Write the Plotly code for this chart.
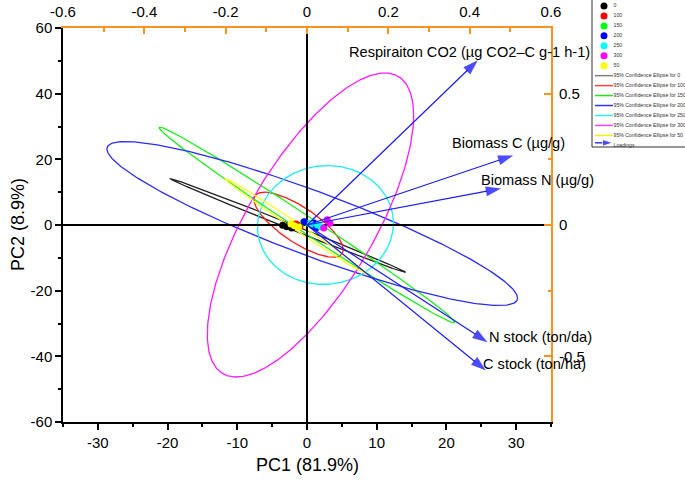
import numpy as np
import plotly.graph_objects as go

W, H = 685, 487

# ---------------- data ----------------
groups = ["0", "100", "150", "200", "250", "300", "50"]
group_colors = ["#000000", "#ff0000", "#00ff00", "#0000ff", "#00ffff", "#ff00ff", "#ffff00"]
ellipse_colors = ["#222222", "#ff1a1a", "#1aee1a", "#2b2bff", "#1aeeee", "#ff1aff", "#ffff1a"]
legend_line_colors = ["#808080", "#ff4040", "#20e020", "#3030ff", "#30f0f0", "#ff40ff", "#f0f020"]

# PCA scores (PC1, PC2), three replicates per group
score_pc1 = [
    [-3.5, -2.9, -2.2],   # 0
    [-1.6, -1.0, -1.3],   # 100
    [-0.5, 0.2, 1.0],     # 150
    [-0.4, 1.0, 1.3],     # 200
    [0.5, 1.5, 2.0],      # 250
    [2.9, 2.4, 3.3],      # 300
    [-1.8, -1.2, -2.3],   # 50
]
score_pc2 = [
    [-0.1, -0.5, -0.9],
    [0.3, -0.3, 0.0],
    [0.9, 0.5, -0.4],
    [1.0, 0.6, -0.8],
    [0.3, 0.0, -0.5],
    [1.6, -0.9, 0.5],
    [-0.2, -0.6, 0.3],
]

# 95% confidence ellipses: centre, half extents in PC1/PC2, correlation
ell_cx = [-2.75, -1.2, 0.0, 0.75, 2.65, 0.5, -1.55]
ell_cy = [-0.15, 0.1, 0.0, 0.45, 0.0, 0.0, -0.4]
ell_ex = [16.9, 6.4, 21.2, 29.45, 9.75, 14.8, 10.15]
ell_ey = [14.3, 9.9, 29.8, 24.97, 18.1, 46.3, 14.5]
ell_r = [-0.9983, -0.77, -0.995, -0.909, 0.03, 0.72, -0.996]

# loadings
loading_names = [
    "Respiraiton CO2 (µg CO2–C g-1 h-1)",
    "Biomass C (µg/g)",
    "Biomass N (µg/g)",
    "N stock (ton/da)",
    "C stock (ton/ha)",
]
loading_pc1 = [0.420, 0.507, 0.477, 0.444, 0.440]
loading_pc2 = [0.627, 0.265, 0.139, -0.446, -0.554]

# axes
X_RANGE = [-35, 35]
Y_RANGE = [-60, 60]
X2_RANGE = [-0.6, 0.6]
Y2_RANGE = [-0.75, 0.75]
x_tickvals = [-30, -20, -10, 0, 10, 20, 30]
x_ticktext = ["-30", "-20", "-10", "0", "10", "20", "30"]
y_tickvals = [-60, -40, -20, 0, 20, 40, 60]
y_ticktext = ["-60", "-40", "-20", "0", "20", "40", "60"]
x2_tickvals = [-0.6, -0.4, -0.2, 0, 0.2, 0.4, 0.6]
x2_ticktext = ["-0.6", "-0.4", "-0.2", "0", "0.2", "0.4", "0.6"]
y2_tickvals = [-0.5, 0, 0.5]
y2_ticktext = ["-0.5", "0", "0.5"]

# ---------------- figure ----------------
ORANGE = "#f7931e"
FONT = "Liberation Sans, Arial, sans-serif"


def px(xp):
    return xp / W


def py(yp):
    return (H - yp) / H


fig = go.Figure()
t = np.linspace(0, 2 * np.pi, 361)
for i, g in enumerate(groups):
    r = ell_r[i]
    ex = ell_cx[i] + ell_ex[i] * np.cos(t)
    ey = ell_cy[i] + ell_ey[i] * (r * np.cos(t) + np.sqrt(1 - r * r) * np.sin(t))
    fig.add_trace(go.Scatter(x=ex, y=ey, mode="lines", xaxis="x", yaxis="y",
                             line=dict(color=ellipse_colors[i], width=1.3),
                             hoverinfo="skip", showlegend=False))

# zero lines
fig.add_trace(go.Scatter(x=X_RANGE, y=[0, 0], mode="lines", line=dict(color="black", width=2),
                         hoverinfo="skip", showlegend=False))
fig.add_trace(go.Scatter(x=[0, 0], y=Y_RANGE, mode="lines", line=dict(color="black", width=2),
                         hoverinfo="skip", showlegend=False))

for i, g in enumerate(groups):
    fig.add_trace(go.Scatter(x=score_pc1[i], y=score_pc2[i], mode="markers", name=g,
                             marker=dict(color=group_colors[i], size=7),
                             showlegend=False))

for j, name in enumerate(loading_names):
    fig.add_trace(go.Scatter(x=[0, loading_pc1[j]], y=[0, loading_pc2[j]], mode="lines+markers",
                             xaxis="x2", yaxis="y2", name=name,
                             line=dict(color="#1a1aff", width=1.2),
                             marker=dict(symbol=["circle", "arrow"], size=[0, 16],
                                         angleref="previous", color="#0000ff",
                                         line=dict(width=0)),
                             showlegend=False))

label_shift = [(-131, 8), (-63, 12), (-22, 8), (-1, 5), (-5, 7)]
annotations = []
for j, name in enumerate(loading_names):
    annotations.append(dict(x=loading_pc1[j], y=loading_pc2[j], xref="x2", yref="y2",
                            text=name, showarrow=False, xanchor="left", yanchor="middle",
                            xshift=label_shift[j][0], yshift=label_shift[j][1],
                            font=dict(size=14.6, color="black", family=FONT)))

# axis titles
annotations.append(dict(x=px(307), y=py(465), xref="paper", yref="paper", text="PC1 (81.9%)",
                        showarrow=False, xanchor="center", yanchor="middle",
                        font=dict(size=18, color="black", family=FONT)))
annotations.append(dict(x=px(18), y=py(225), xref="paper", yref="paper", text="PC2 (8.9%)",
                        showarrow=False, xanchor="center", yanchor="middle", textangle=-90,
                        font=dict(size=18, color="black", family=FONT)))

# ---------------- manual legend ----------------
legend_labels = groups + ["95% Confidence Ellipse for " + g for g in groups] + ["Loadings"]
n_groups = len(groups)
for i, g in enumerate(groups):
    fig.add_trace(go.Scatter(x=[12], y=[i], mode="markers", xaxis="x3", yaxis="y3",
                             marker=dict(color=group_colors[i], size=7),
                             hoverinfo="skip", showlegend=False))
for i, g in enumerate(groups):
    fig.add_trace(go.Scatter(x=[3, 21], y=[n_groups + i] * 2, mode="lines", xaxis="x3", yaxis="y3",
                             line=dict(color=legend_line_colors[i], width=1.5),
                             hoverinfo="skip", showlegend=False))
k = 2 * n_groups
fig.add_trace(go.Scatter(x=[3, 21], y=[k - 0.25, k - 0.25], mode="lines+markers", xaxis="x3", yaxis="y3",
                         line=dict(color="#0000ff", width=1.2),
                         marker=dict(symbol=["circle", "arrow"], size=[0, 11], angleref="previous",
                                     color="#0000ff"),
                         hoverinfo="skip", showlegend=False))
fig.add_trace(go.Scatter(x=[21.5] * len(legend_labels), y=list(range(len(legend_labels))), mode="text",
                         text=legend_labels, textposition="middle right", xaxis="x3", yaxis="y3",
                         textfont=dict(size=5.2, color="#333333", family=FONT),
                         cliponaxis=False, hoverinfo="skip", showlegend=False))

shapes = [dict(type="rect", xref="paper", yref="paper", x0=px(592), x1=1.05,
               y0=py(147), y1=1.05, line=dict(color="#333333", width=1))]

xdom = [px(63), px(551)]
ydom = [py(422), py(28)]

common = dict(showgrid=False, zeroline=False, showline=True, automargin=False,
              tickfont=dict(size=15, color="black", family=FONT))

fig.update_layout(
    width=W, height=H, margin=dict(l=0, r=0, t=0, b=0, autoexpand=False),
    paper_bgcolor="white", plot_bgcolor="rgba(0,0,0,0)",
    showlegend=False,
    xaxis=dict(domain=xdom, range=X_RANGE, anchor="y", tickmode="array",
               tickvals=x_tickvals, ticktext=x_ticktext, ticks="outside", ticklen=6,
               tickwidth=1.5, tickcolor="black", linecolor="black", linewidth=1.5,
               minor=dict(dtick=5, ticklen=3.5, ticks="outside", tickcolor="black", tickwidth=1.5),
               **common),
    yaxis=dict(domain=ydom, range=Y_RANGE, anchor="x", tickmode="array",
               tickvals=y_tickvals, ticktext=y_ticktext, ticks="outside", ticklen=6,
               tickwidth=1.5, tickcolor="black", linecolor="black", linewidth=1.5,
               minor=dict(dtick=10, ticklen=3.5, ticks="outside", tickcolor="black", tickwidth=1.5),
               **common),
    xaxis2=dict(overlaying="x", side="top", anchor="y", range=X2_RANGE, tickmode="array",
                tickvals=x2_tickvals, ticktext=x2_ticktext, ticks="inside", ticklen=6,
                tickwidth=1.5, tickcolor=ORANGE, linecolor=ORANGE, linewidth=2,
                ticklabelstandoff=3,
                minor=dict(dtick=0.1, ticklen=3.5, ticks="inside", tickcolor=ORANGE, tickwidth=1.5),
                **common),
    yaxis2=dict(overlaying="y", side="right", anchor="x", range=Y2_RANGE, tickmode="array",
                tickvals=y2_tickvals, ticktext=y2_ticktext, ticks="inside", ticklen=7,
                tickwidth=1.5, tickcolor=ORANGE, linecolor=ORANGE, linewidth=2,
                ticklabelstandoff=3,
                minor=dict(dtick=0.25, ticklen=3.5, ticks="inside", tickcolor=ORANGE, tickwidth=1.5),
                **common),
    xaxis3=dict(domain=[px(592), 1.0], range=[0, 93], anchor="y3", visible=False, fixedrange=True,
                automargin=False),
    yaxis3=dict(domain=[py(150), 1.0], range=[14.47, -0.603], anchor="x3", visible=False,
                fixedrange=True, automargin=False),
    annotations=annotations,
    shapes=shapes,
)

fig.write_html("out.html", config={"displayModeBar": False},
               post_script="document.body.style.margin='0px';")
